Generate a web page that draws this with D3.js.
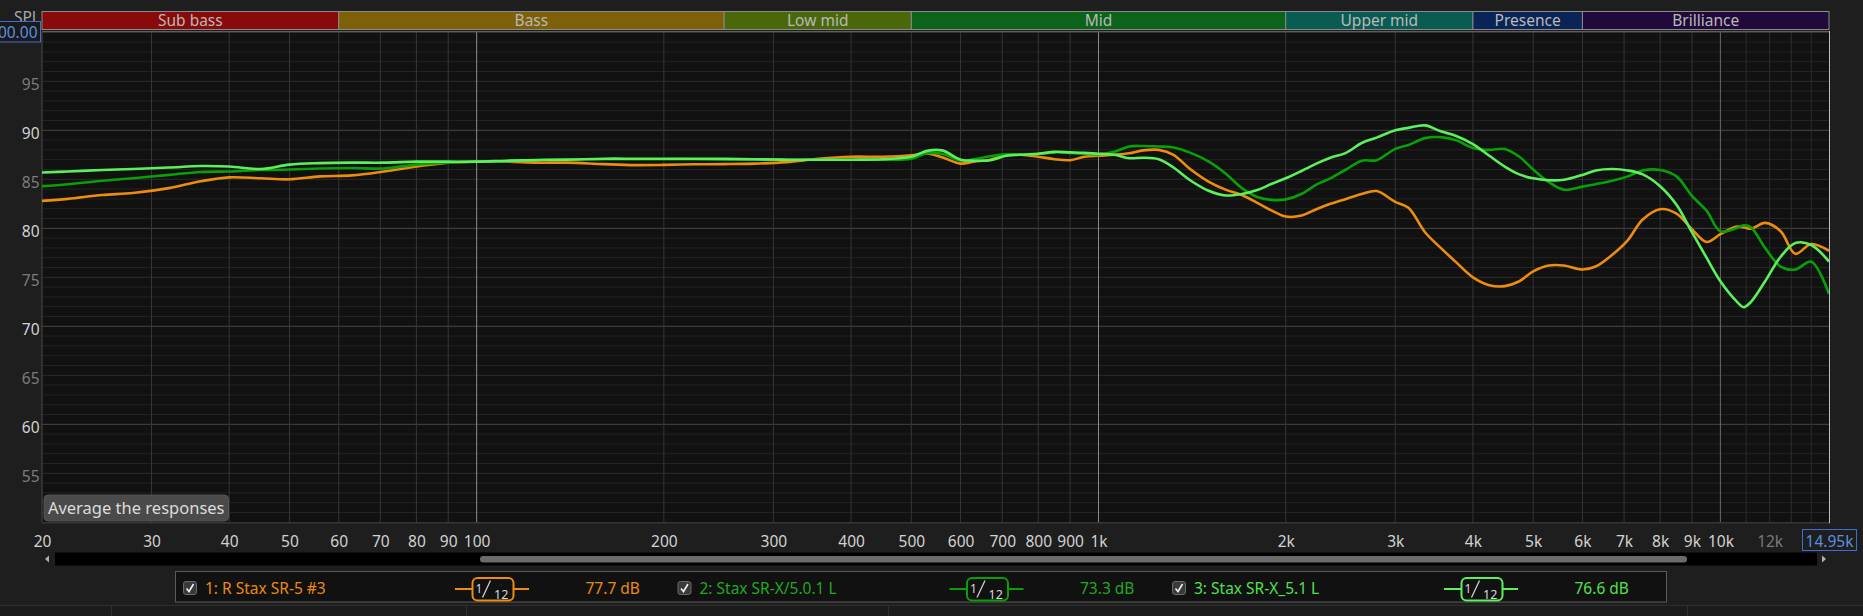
<!DOCTYPE html>
<html><head><meta charset="utf-8">
<script src="https://cdn.jsdelivr.net/npm/d3@7"></script>
<style>
html,body{margin:0;padding:0;background:#1e1e1e;overflow:hidden}
svg{display:block}
text{font-family:"Noto Sans",sans-serif}
</style></head>
<body>
<svg id="c" width="1863" height="616"></svg>
<script>
// ---------- DATA ----------
const freqs = [20,22,25,28,32,36,40,45,50,56,63,71,80,90,100,112,125,140,160,180,200,224,250,280,315,355,400,450,500,530,560,600,630,670,710,750,800,850,900,950,1000,1060,1120,1180,1250,1320,1400,1500,1600,1700,1800,1900,2000,2120,2240,2360,2500,2650,2800,3000,3150,3350,3550,3750,4000,4250,4500,4750,5000,5300,5600,6000,6300,6700,7100,7500,8000,8500,9000,9500,10000,10600,10900,11200,11800,12500,13200,14000,14950];
const s1 = [82.8,83.0,83.4,83.6,84.1,84.8,85.2,85.1,85.0,85.3,
85.4,85.8,86.3,86.7,86.8,86.8,86.7,86.7,86.55,86.45,
86.47,86.53,86.55,86.6,86.75,87.1,87.3,87.3,87.45,87.65,
87.25,86.6,86.8,87.0,87.45,87.5,87.3,87.05,86.95,87.3,
87.4,87.5,87.65,87.95,88.0,87.5,86.1,84.8,83.95,83.4,
82.6,81.8,81.2,81.3,81.95,82.5,83.0,83.5,83.8,82.7,
82.1,79.6,78.0,76.6,75.0,74.2,74.1,74.6,75.6,76.2,
76.2,75.8,76.1,77.3,78.8,80.9,81.95,81.5,79.9,78.6,
79.4,80.15,80.1,79.95,80.55,79.7,77.4,78.4,77.7];
const s2 = [84.3,84.5,84.85,85.1,85.45,85.75,85.8,85.95,86.0,86.1,
86.15,86.1,86.5,86.7,86.8,86.85,87.0,87.05,87.05,87.05,
87.05,87.05,87.0,87.0,87.0,87.0,87.0,87.0,87.1,87.65,
87.6,86.9,87.05,87.35,87.55,87.55,87.6,87.75,87.7,87.6,
87.55,87.8,88.35,88.4,88.35,88.25,87.75,86.85,85.6,84.1,
83.2,82.9,82.95,83.5,84.45,85.1,86.0,86.9,86.95,88.1,
88.5,89.2,89.3,89.0,88.2,88.0,88.1,87.3,86.0,84.7,
83.95,84.25,84.5,84.85,85.3,85.9,85.95,85.3,83.3,81.8,
79.7,80.0,80.3,80.1,78.0,76.1,75.8,76.6,73.3];
const s3 = [85.7,85.8,85.95,86.05,86.2,86.35,86.3,86.05,86.5,86.65,
86.7,86.7,86.8,86.8,86.8,86.9,86.95,87.0,87.1,87.1,
87.1,87.1,87.1,87.05,87.0,87.0,87.0,87.05,87.3,87.9,
87.95,87.0,86.9,86.95,87.4,87.5,87.6,87.8,87.75,87.7,
87.6,87.5,87.15,87.2,87.05,86.2,84.95,83.85,83.35,83.5,
83.9,84.55,85.1,85.85,86.6,87.2,87.7,88.7,89.25,90.0,
90.25,90.5,89.9,89.45,88.6,87.4,86.3,85.5,85.1,84.9,
84.95,85.45,85.9,86.05,85.9,85.5,84.3,82.4,79.6,77.0,
74.6,72.6,71.95,72.5,74.6,77.1,78.5,78.3,76.6];
const seriesNames = ["1: R Stax SR-5 #3","2: Stax SR-X/5.0.1 L","3: Stax SR-X_5.1 L"];
const seriesLevels = ["77.7 dB","73.3 dB","76.6 dB"];
const yTicks = [55,60,65,70,75,80,85,90,95];
const xTicks = [20,30,40,50,60,70,80,90,100,200,300,400,500,600,700,800,900,1000,2000,3000,4000,5000,6000,7000,8000,9000,10000,12000];
const xTickLabels = ["20","30","40","50","60","70","80","90","100","200","300","400","500","600","700","800","900","1k","2k","3k","4k","5k","6k","7k","8k","9k","10k","12k"];
const bandNames = ["Sub bass","Bass","Low mid","Mid","Upper mid","Presence","Brilliance"];
const bandEdges = [20,60,250,500,2000,4000,6000,14950];

// ---------- STYLE / LAYOUT ----------
const seriesColors = ["#ee8c0e","#07a007","#5cf05c"];
const textColors = ["#e88a12","#22a822","#52e052"];
const bandColors = ["#880a0a","#7e6009","#4a680a","#0b6419","#0a5c52","#0b2456","#200a3c"];
const W=1863,H=616,L=42,R=1829,T=32.3,B=522.3;
const svg = d3.select("#c");
const x = d3.scaleLog().domain([20,14950]).range([L,R]);
const y = d3.scaleLinear().domain([50,100]).range([B,T]);

svg.append("rect").attr("width",W).attr("height",H).attr("fill","#1e1e1e");
svg.append("rect").attr("x",L).attr("y",T).attr("width",R-L).attr("height",B-T).attr("fill","#111111");

// horizontal grid
const hg = svg.append("g");
d3.range(51,100).forEach(v=>{
  const c = v%10===0 ? "#484848" : (v%5===0 ? "#2c2c2c" : "#232323");
  hg.append("line").attr("x1",L).attr("x2",R).attr("y1",y(v)).attr("y2",y(v)).attr("stroke",c).attr("stroke-width",1);
});
// vertical grid
const vgFreqs = [];
[10,100,1000].forEach(d=>{for(let k=1;k<10;k++){const f=k*d; if(f>20) vgFreqs.push(f);}});
vgFreqs.push(10000,11000,12000,13000,14000);
vgFreqs.forEach(f=>{
  let c = "#363636";
  if(f===100||f===1000) c="#8c8c8c";
  else if(f===10000) c="#6a6a6a";
  else if(f>10000) c="#2c2c2c";
  svg.append("line").attr("x1",x(f)).attr("x2",x(f)).attr("y1",T).attr("y2",B).attr("stroke",c).attr("stroke-width",1);
});

// frame
svg.append("line").attr("x1",L).attr("x2",R).attr("y1",31.8).attr("y2",31.8).attr("stroke","#7a7a7a");
svg.append("line").attr("x1",L).attr("x2",L).attr("y1",T).attr("y2",B).attr("stroke","#4a4a4a");
svg.append("line").attr("x1",L).attr("x2",R).attr("y1",B+0.5).attr("y2",B+0.5).attr("stroke","#444");
svg.append("line").attr("x1",R+0.5).attr("x2",R+0.5).attr("y1",31).attr("y2",B+1).attr("stroke","#bdbdbd");

// bands
const bg = svg.append("g");
bandNames.forEach((n,i)=>{
  const x0=x(bandEdges[i]), x1=x(bandEdges[i+1]);
  bg.append("rect").attr("x",x0).attr("y",11.5).attr("width",x1-x0).attr("height",18)
    .attr("fill",bandColors[i]).attr("stroke","#8a8a8a").attr("stroke-width",1);
  bg.append("text").attr("x",(x0+x1)/2).attr("y",26).attr("text-anchor","middle")
    .attr("font-size","15.5px").attr("fill","#b8b8b8").text(n);
});

// curves
svg.append("clipPath").attr("id","pc").append("rect").attr("x",L).attr("y",T).attr("width",R-L).attr("height",B-T);
const line = d3.line().x(d=>x(d[0])).y(d=>y(d[1])).curve(d3.curveCatmullRom.alpha(0.5));
[s1,s2,s3].forEach((s,i)=>{
  svg.append("path").attr("clip-path","url(#pc)").attr("d",line(freqs.map((f,j)=>[f,s[j]])))
    .attr("fill","none").attr("stroke",seriesColors[i]).attr("stroke-width",2.6).attr("stroke-linejoin","round");
});

// y axis
const ya = svg.append("g").attr("transform",`translate(${L},0)`)
  .call(d3.axisLeft(y).tickValues(yTicks).tickSize(0).tickPadding(2.5));
ya.select(".domain").remove();
ya.selectAll("text").attr("font-family","Noto Sans").attr("font-size","15.5px").attr("dy","0.5em")
  .attr("fill",d=>d%10===0?"#d2d2d2":"#7c7c7c");

// x axis
const xa = svg.append("g").attr("transform",`translate(0,${B})`)
  .call(d3.axisBottom(x).tickValues(xTicks).tickFormat((d,i)=>xTickLabels[i]).tickSize(0));
xa.select(".domain").remove();
xa.selectAll("text").attr("font-family","Noto Sans").attr("font-size","15.5px").attr("y",25).attr("dy",0)
  .attr("fill",d=>d===12000?"#7a7a7a":"#d2d2d2");

// end box 14.95k
svg.append("rect").attr("x",1802.5).attr("y",529.5).attr("width",54).attr("height",21).attr("fill","#1e1e1e").attr("stroke","#3f6fcc");
svg.append("text").attr("x",1829.5).attr("y",546.5).attr("text-anchor","middle").attr("font-size","15.5px").attr("fill","#5b8fe0").text("14.95k");

// SPL + top box
svg.append("text").attr("x",40).attr("y",23).attr("text-anchor","end").attr("font-size","15.5px").attr("fill","#a8a8a8").text("SPL");
svg.append("rect").attr("x",-2).attr("y",21.5).attr("width",42.5).attr("height",20.5).attr("fill","#1a1a1a").attr("stroke","#3f6fcc");
svg.append("text").attr("x",37.5).attr("y",37.5).attr("text-anchor","end").attr("font-size","15.5px").attr("fill","#5b8fe0").text("100.00");

// Average button
svg.append("rect").attr("x",44).attr("y",495).attr("width",184.5).attr("height",26).attr("rx",4).attr("fill","#4a4a4a").attr("stroke","#555");
svg.append("text").attr("x",136.2).attr("y",513.5).attr("text-anchor","middle").attr("font-size","16.5px").attr("fill","#dcdcdc").text("Average the responses");

// scrollbar
svg.append("rect").attr("x",55).attr("y",552.5).attr("width",1762).attr("height",13).attr("fill","#000");
svg.append("rect").attr("x",480).attr("y",556).attr("width",1207).attr("height",6.5).attr("rx",3.25).attr("fill","#6b6b6b");
svg.append("path").attr("d","M49,555.5 L45,559 L49,562.5 Z").attr("fill","#b0b0b0");
svg.append("path").attr("d","M1822,555.5 L1826,559 L1822,562.5 Z").attr("fill","#b0b0b0");

// legend
svg.append("rect").attr("x",175.5).attr("y",571.5).attr("width",1491).attr("height",30.5).attr("fill","#111").attr("stroke","#5a5a5a");
seriesNames.forEach((n,i)=>{
  const ox = 183 + i*494.5;
  const g = svg.append("g").attr("transform",`translate(${ox},0)`);
  g.append("rect").attr("x",0.5).attr("y",581.5).attr("width",13).attr("height",13).attr("rx",2.5).attr("fill","#3a3a3a").attr("stroke","#6a6a6a");
  g.append("path").attr("d","M3.5,588.5 L6,591.5 L10.5,584").attr("fill","none").attr("stroke","#f0f0f0").attr("stroke-width",1.6);
  g.append("text").attr("x",22).attr("y",594).attr("font-size","15.5px").attr("fill",textColors[i]).text(n);
  g.append("line").attr("x1",272).attr("x2",346).attr("y1",589).attr("y2",589).attr("stroke",seriesColors[i]).attr("stroke-width",2);
  g.append("rect").attr("x",289.5).attr("y",578).attr("width",41).attr("height",22.5).attr("rx",5).attr("fill","#111").attr("stroke",seriesColors[i]).attr("stroke-width",2);
  g.append("text").attr("x",292.5).attr("y",592.5).attr("font-size","12px").attr("fill","#d8d8d8").text("1");
  g.append("line").attr("x1",299.5).attr("y1",597.5).attr("x2",307.5).attr("y2",580.5).attr("stroke","#cfcfcf").attr("stroke-width",1.3);
  g.append("text").attr("x",311).attr("y",598.5).attr("font-size","12.5px").attr("fill","#d8d8d8").text("12");
  g.append("text").attr("x",402.5).attr("y",594).attr("font-size","15.5px").attr("fill",textColors[i]).text(seriesLevels[i]);
});

// bottom strip
svg.append("rect").attr("x",0).attr("y",605).attr("width",W).attr("height",11).attr("fill","#1b1b1b");
svg.append("line").attr("x1",0).attr("x2",W).attr("y1",605.5).attr("y2",605.5).attr("stroke","#2e2e2e");
[111.5,466.5,888.5,1687.5].forEach(v=>{
  svg.append("line").attr("x1",v).attr("x2",v).attr("y1",606).attr("y2",616).attr("stroke","#2e2e2e");
});
</script>
</body></html>
